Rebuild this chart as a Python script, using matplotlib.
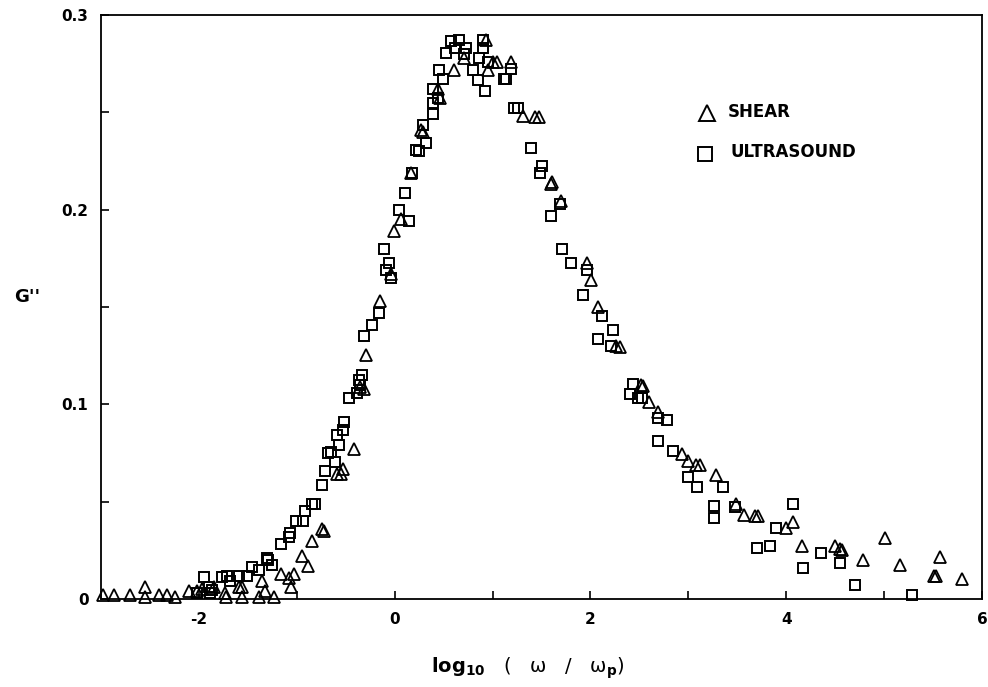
import matplotlib
matplotlib.use("Agg")
import matplotlib.pyplot as plt
from matplotlib.ticker import MultipleLocator, FixedLocator

plt.rcParams['font.family'] = ['DejaVu Sans']
plt.rcParams['mathtext.fontset'] = 'custom'
plt.rcParams['mathtext.rm'] = 'DejaVu Sans'
plt.rcParams['mathtext.bf'] = 'DejaVu Sans:bold'
plt.rcParams['mathtext.it'] = 'DejaVu Serif:italic'

shear_x = [-2.98, -2.87, -2.70, -2.55, -2.55, -2.41, -2.33, -2.24, -2.10, -2.02,
           -1.97, -1.85, -1.73, -1.72, -1.59, -1.56, -1.56, -1.39, -1.36, -1.32,
           -1.23, -1.16, -1.08, -1.06, -1.03, -0.95, -0.89, -0.84, -0.745, -0.72,
           -0.585, -0.55, -0.53, -0.415, -0.35, -0.31, -0.295, -0.15, -0.04, -0.005,
           0.06, 0.165, 0.27, 0.29, 0.44, 0.46, 0.61, 0.71, 0.93, 0.95,
           1.0, 1.05, 1.19, 1.31, 1.43, 1.47, 1.60, 1.61, 1.70, 1.96,
           2.01, 2.08, 2.26, 2.30, 2.52, 2.54, 2.60, 2.69, 2.94, 3.0,
           3.075, 3.12, 3.285, 3.49, 3.57, 3.68, 3.71, 4.00, 4.07, 4.16,
           4.50, 4.545, 4.57, 4.78, 5.01, 5.16, 5.57, 5.505, 5.53, 5.795]
shear_y = [0.002, 0.002, 0.002, 0.006, 0.001, 0.002, 0.002, 0.001, 0.004, 0.004,
           0.005, 0.006, 0.003, 0.001, 0.006, 0.006, 0.001, 0.001, 0.009, 0.004,
           0.001, 0.013, 0.011, 0.006, 0.013, 0.022, 0.017, 0.030, 0.036, 0.035,
           0.064, 0.064, 0.067, 0.077, 0.109, 0.108, 0.1255, 0.153, 0.167, 0.189,
           0.195, 0.219, 0.241, 0.240, 0.262, 0.2575, 0.272, 0.278, 0.287, 0.272,
           0.276, 0.276, 0.276, 0.248, 0.2476, 0.2476, 0.213, 0.214, 0.2044, 0.1727,
           0.164, 0.150, 0.130, 0.1295, 0.110, 0.1096, 0.101, 0.096, 0.0746, 0.0711,
           0.0689, 0.0689, 0.0638, 0.0489, 0.0432, 0.0428, 0.0428, 0.0364, 0.0398, 0.027,
           0.027, 0.0256, 0.025, 0.020, 0.0312, 0.0175, 0.0218, 0.0118, 0.0118, 0.0101]

ultra_x = [-2.02, -1.95, -1.90, -1.87, -1.89, -1.76, -1.71, -1.68, -1.59, -1.51,
           -1.46, -1.39, -1.30, -1.29, -1.25, -1.16, -1.08, -1.07, -1.01, -0.94,
           -0.92, -0.84, -0.81, -0.745, -0.71, -0.68,
           -0.65, -0.61, -0.585, -0.57, -0.53, -0.52, -0.465, -0.38, -0.35, -0.36,
           -0.33, -0.31, -0.23, -0.16, -0.11, -0.09, -0.056, -0.04, 0.046, 0.107,
           0.15, 0.18, 0.22, 0.25, 0.285, 0.32, 0.39, 0.39, 0.39, 0.44,
           0.45, 0.49, 0.52, 0.575, 0.62, 0.66, 0.71, 0.73, 0.80, 0.85,
           0.865, 0.90, 0.90, 0.92, 0.95, 1.12, 1.14, 1.19, 1.22, 1.26,
           1.39, 1.48, 1.50, 1.60, 1.69, 1.71, 1.80, 1.96, 1.92, 2.12,
           2.23, 2.08, 2.21, 2.43, 2.40, 2.485, 2.53, 2.69, 2.78, 2.69,
           2.84, 3.0, 3.09, 3.355, 3.26, 3.26, 3.48, 3.90, 4.065, 3.70,
           3.83, 4.17, 4.36, 4.545, 4.70, 5.29]
ultra_y = [0.003, 0.0115, 0.006, 0.0046, 0.003, 0.0115, 0.012, 0.009, 0.012, 0.012,
           0.0165, 0.015, 0.021, 0.020, 0.0175, 0.0285, 0.032, 0.034, 0.040, 0.040,
           0.045, 0.049, 0.049, 0.0586, 0.066, 0.075,
           0.0757, 0.0706, 0.084, 0.079, 0.087, 0.091, 0.1035, 0.106, 0.110, 0.1126,
           0.115, 0.135, 0.141, 0.147, 0.180, 0.169, 0.1727, 0.165, 0.200, 0.2087,
           0.194, 0.219, 0.2305, 0.230, 0.2433, 0.2344, 0.249, 0.255, 0.262, 0.2575,
           0.272, 0.267, 0.2807, 0.2867, 0.283, 0.287, 0.280, 0.283, 0.272, 0.2666,
           0.278, 0.287, 0.283, 0.261, 0.276, 0.267, 0.267, 0.2725, 0.2524, 0.2524,
           0.2318, 0.219, 0.2224, 0.1967, 0.203, 0.180, 0.1727, 0.169, 0.156, 0.1456,
           0.138, 0.1336, 0.130, 0.1106, 0.1054, 0.103, 0.103, 0.093, 0.0917, 0.081,
           0.0758, 0.0626, 0.0575, 0.0575, 0.048, 0.0415, 0.0475, 0.0364, 0.0487, 0.026,
           0.027, 0.0158, 0.0238, 0.0187, 0.0072, 0.002]

x_ticks = [-2, 0, 2, 4, 6]
x_ticklabels = ['-2', '0', '2', '4', '6']
y_ticks = [0, 0.1, 0.2, 0.3]
y_ticklabels = ['0', '0.1', '0.2', '0.3']

fig = plt.figure(figsize=(9.88, 6.87), dpi=100)
ax = fig.add_axes([101/988, 1 - 599/687, (982 - 101)/988, (599 - 15)/687])

ax.plot(shear_x, shear_y, linestyle='none', marker='^', ms=8, mfc='none',
        mec='black', mew=1.3, clip_on=False)
ax.plot(ultra_x, ultra_y, linestyle='none', marker='s', ms=7, mfc='none',
        mec='black', mew=1.4, clip_on=False)

ax.set_xlim(-3, 6)
ax.set_ylim(0, 0.3)
ax.xaxis.set_major_locator(FixedLocator(x_ticks))
ax.set_xticklabels(x_ticklabels)
ax.xaxis.set_minor_locator(MultipleLocator(1))
ax.yaxis.set_major_locator(FixedLocator(y_ticks))
ax.set_yticklabels(y_ticklabels)
ax.yaxis.set_minor_locator(MultipleLocator(0.05))
ax.tick_params(which='both', direction='in', width=1.2, colors='black',
               top=False, right=False)
ax.tick_params(which='major', length=6, labelsize=11, pad=9)
ax.tick_params(which='minor', length=6)
for lbl in ax.get_xticklabels() + ax.get_yticklabels():
    lbl.set_fontweight('bold')
for sp in ax.spines.values():
    sp.set_linewidth(1.3)

# legend drawn as markers + text inside the axes
ax.plot([0.688], [0.832], transform=ax.transAxes, marker='^', ms=11, mfc='none',
        mec='black', mew=1.4, linestyle='none')
ax.text(0.711, 0.834, 'SHEAR', transform=ax.transAxes, fontsize=12,
        fontweight='bold', va='center', ha='left')
ax.plot([0.686], [0.762], transform=ax.transAxes, marker='s', ms=10, mfc='none',
        mec='black', mew=1.4, linestyle='none')
ax.text(0.714, 0.766, 'ULTRASOUND', transform=ax.transAxes, fontsize=12,
        fontweight='bold', va='center', ha='left')

fig.text(27/988, 1 - 297/687, "G''", fontsize=13, fontweight='bold',
         ha='center', va='center')
fig.text(528/988, 1 - 668/687,
         r'$\mathbf{log}_{\mathbf{10}}$   (   ω   /   ω$_{\mathbf{p}}$)',
         fontsize=14, fontweight='normal', ha='center', va='center')

fig.savefig('out.png', dpi=100, facecolor='white')
